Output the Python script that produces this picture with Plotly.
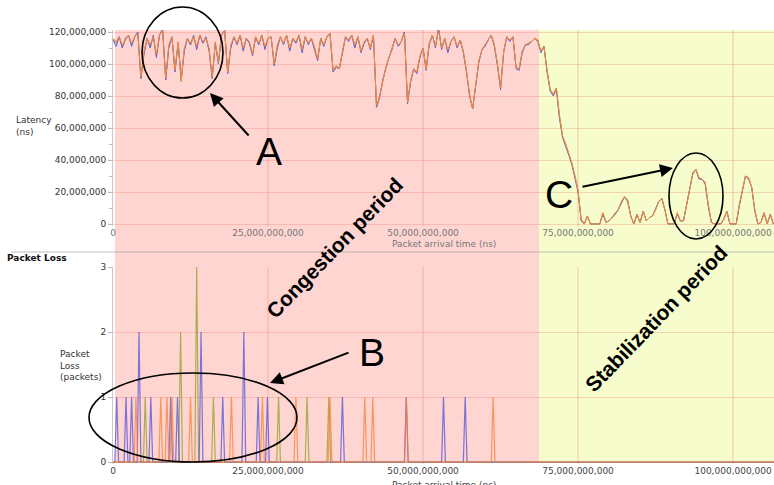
import plotly.graph_objects as go

# ---------------- data ----------------
STEP_NS = 0.5e9  # sampling step of latency series
X_MAX_NS = 106.6e9

# latency in millions of ns, one value every 0.5e9 ns
latency_orange_mns = [116,114,117,112,115,118,113,117,119,92,
108,116,112,117,106,118,121,91,112,117,
96,114,90,110,116,113,117,111,118,114,
116,110,92,114,101,118,121,95,112,117,
113,118,110,116,114,106,117,113,118,111,
116,117,100,112,117,113,118,110,116,114,
118,109,117,113,116,111,103,116,112,117,
119,96,99,97,108,117,115,118,112,117,
108,114,116,110,118,74,80,90,98,104,
110,116,112,114,119,76,90,97,95,105,
110,97,113,118,111,121,110,116,109,114,
117,111,115,108,96,81,72,88,102,109,
112,115,118,112,100,85,108,117,115,117,
98,97,108,112,113,114,116,115,108,111,
96,84,81,85,68,55,50,44,38,30,
21,2,0,5,0,0,0,0,7,1,
2,4,6,9,14,17,15,5,0,6,
1,8,2,4,5,9,14,16,9,0,
0,0,7,2,2,12,22,31,34,29,
28,26,12,1,0,0,0,3,8,0,
0,0,12,22,30,29,23,9,0,1,
7,0,6,0]

latency_blue_mns = [115,111,117,110,116,118,111,117,120,91,
106,116,110,118,104,118,122,90,110,117,
95,113,91,108,116,112,118,109,118,113,
117,108,91,113,100,118,121,94,110,117,
112,118,108,116,113,105,117,112,118,109,
116,117,99,110,117,112,118,108,116,113,
118,107,117,112,116,109,102,116,111,117,
119,95,98,97,106,117,114,118,110,117,
107,113,116,109,118,73,79,90,97,104,
109,116,111,114,120,75,89,97,94,104,
110,96,112,118,110,123,109,116,107,114,
117,110,115,107,95,80,72,87,101,109,
111,115,118,111,99,84,107,117,114,117,
97,96,107,112,112,114,116,114,107,111,
95,83,80,84,66,54,49,43,37,29,
20,3,0,5,0,0,0,0,6,1,
2,4,7,9,13,17,14,5,0,6,
1,8,2,4,5,9,14,16,9,0,
0,0,6,2,2,11,22,32,34,28,
28,25,11,1,0,0,0,3,8,0,
0,0,11,21,30,28,23,8,0,1,
7,0,6,0]

latency_green_mns = [116,113,117,111,115,118,112,117,120,91,
107,116,111,117,105,118,121,90,111,117,
96,113,89,109,116,112,117,110,118,113,
116,109,91,113,101,118,121,95,111,117,
113,118,109,116,113,106,117,112,118,110,
116,117,99,111,117,113,118,109,116,113,
118,108,117,113,116,110,103,116,112,117,
119,95,99,97,107,117,115,118,111,117,
108,113,116,110,118,73,80,90,98,104,
110,116,112,114,120,76,89,97,95,105,
110,97,113,118,111,122,110,116,108,114,
117,111,115,108,96,81,72,88,102,109,
112,115,118,112,100,85,108,117,115,117,
98,97,108,112,113,114,116,115,108,111,
96,84,81,85,68,55,50,44,38,30,
21,2,0,5,0,0,0,0,7,1,
2,4,6,9,14,17,15,5,0,6,
1,8,2,4,5,9,14,16,9,0,
0,0,7,2,2,12,22,31,34,29,
28,26,12,1,0,0,0,3,8,0,
0,0,12,22,30,29,23,9,0,1,
7,0,6,0]

# packet loss events: time (1e9 ns) and number of packets
loss_blue_t = [0.6, 2.1, 3.0, 4.2, 6.1, 9.3, 10.4, 14.2, 17.7, 21.1, 23.4, 24.9, 37.0, 47.3, 53.3, 56.8]
loss_blue_n = [1, 1, 1, 2, 1, 1, 1, 2, 1, 2, 1, 1, 1, 1, 1, 1]
loss_green_t = [5.2, 10.9, 13.5, 16.2, 26.7, 31.3, 34.8]
loss_green_n = [1, 2, 3, 1, 1, 1, 1]
loss_orange_t = [3.7, 7.7, 8.7, 9.5, 12.5, 19.1, 24.1, 29.5, 35.0, 40.6, 41.9, 47.3, 61.3]
loss_orange_n = [1, 1, 1, 1, 1, 1, 1, 1, 1, 1, 1, 1, 1]

x_ticks = [0, 25e9, 50e9, 75e9, 100e9]

# ---------------- styling helpers ----------------
W, H = 774, 485
ML, MR, MT, MB = 113, 0, 30, 21
PW, PH = W - ML - MR, H - MT - MB

def px(x):
    return (x - ML) / PW

def py(y):
    return (H - MB - y) / PH

BLUE = "rgb(95,95,220)"
ORANGE = "rgb(255,135,55)"
GREEN = "rgb(145,165,45)"
GRID = "rgba(235,120,100,0.30)"
XGRID = "rgba(235,120,100,0.20)"
FONT = "DejaVu Sans"

lat_t = [i * STEP_NS for i in range(len(latency_orange_mns))]


def spike_series(ts, ns, half=0.3):
    xs, ys = [0.0], [0.0]
    for t, n in sorted(zip(ts, ns)):
        xs += [(t - half) * 1e9, t * 1e9, (t + half) * 1e9]
        ys += [0, n, 0]
    xs.append(X_MAX_NS)
    ys.append(0)
    return xs, ys


fig = go.Figure()

for vals, col in [(latency_green_mns, GREEN), (latency_blue_mns, BLUE), (latency_orange_mns, ORANGE)]:
    fig.add_trace(go.Scatter(x=lat_t, y=[v * 1e6 for v in vals], mode="lines",
                             line=dict(color=col, width=1), xaxis="x", yaxis="y",
                             hoverinfo="skip", showlegend=False))

for ts, ns, col in [(loss_green_t, loss_green_n, "rgba(140,160,40,0.75)"),
                    (loss_blue_t, loss_blue_n, "rgba(80,80,220,0.75)"),
                    (loss_orange_t, loss_orange_n, "rgba(255,125,50,0.75)")]:
    xs, ys = spike_series(ts, ns)
    fig.add_trace(go.Scatter(x=xs, y=ys, mode="lines", line=dict(color=col, width=1.2),
                             xaxis="x2", yaxis="y2", hoverinfo="skip", showlegend=False))

tick_font = dict(family=FONT, size=9, color="#333")
top_dom = [py(225.6), 1.0]
bot_dom = [0.0, py(267)]

fig.update_layout(
    width=W, height=H,
    margin=dict(l=ML, r=MR, t=MT, b=MB, pad=0),
    paper_bgcolor="white",
    plot_bgcolor="rgba(0,0,0,0)",
    showlegend=False,
    xaxis=dict(domain=[0, 1], range=[0, X_MAX_NS], tickvals=x_ticks, tickformat=",d",
               showgrid=True, gridcolor=XGRID, gridwidth=2, zeroline=False,
               ticks="", tickfont=dict(family=FONT, size=9, color="#777"),
               anchor="y", showline=False),
    yaxis=dict(domain=top_dom, range=[-1e6, 121.25e6], dtick=20e6, tick0=0, tickformat=",d",
               showgrid=True, gridcolor=GRID, zeroline=False, ticks="outside", ticklen=4,
               tickcolor="#bbb", tickfont=tick_font, showline=True, linecolor="#c8c8c8",
               minor=dict(dtick=10e6, ticks="outside", ticklen=3, tickcolor="#bbb", showgrid=False),
               anchor="x"),
    xaxis2=dict(domain=[0, 1], range=[0, X_MAX_NS], tickvals=x_ticks, tickformat=",d",
                showgrid=True, gridcolor=XGRID, gridwidth=2, zeroline=False, ticks="",
                tickfont=dict(family=FONT, size=9, color="#444"), anchor="y2", showline=False),
    yaxis2=dict(domain=bot_dom, range=[-0.03, 3.0], dtick=1, tick0=0,
                showgrid=True, gridcolor=GRID, zeroline=False, ticks="outside", ticklen=4,
                tickcolor="#bbb", tickfont=tick_font, showline=True, linecolor="#c8c8c8",
                anchor="x2"),
)

shapes = [
    dict(type="rect", xref="paper", yref="paper", x0=px(115), x1=px(539), y0=py(462), y1=1,
         fillcolor="rgb(255,213,210)", line=dict(width=0), layer="below"),
    dict(type="rect", xref="paper", yref="paper", x0=px(539), x1=1, y0=py(462), y1=1,
         fillcolor="rgb(246,252,204)", line=dict(width=0), layer="below"),
    dict(type="line", xref="paper", yref="paper", x0=px(11), x1=1, y0=py(252), y1=py(252),
         line=dict(color="rgba(150,150,150,0.6)", width=1)),
    # highlight ellipses
    dict(type="circle", xref="paper", yref="paper", x0=px(142), x1=px(223), y0=py(98), y1=py(7),
         line=dict(color="black", width=1.6)),
    dict(type="circle", xref="paper", yref="paper", x0=px(89), x1=px(297), y0=py(462), y1=py(373),
         line=dict(color="black", width=1.6)),
    dict(type="circle", xref="paper", yref="paper", x0=px(669), x1=px(723), y0=py(239), y1=py(153),
         line=dict(color="black", width=1.6)),
]
fig.update_layout(shapes=shapes)

ann = []
def text(x, y, s, size=9, color="#333", xanchor="left", yanchor="middle", bold=False,
         family=FONT, angle=0, align="left"):
    ann.append(dict(xref="paper", yref="paper", x=px(x), y=py(y), text=s, showarrow=False,
                    xanchor=xanchor, yanchor=yanchor, textangle=angle, align=align,
                    font=dict(family=family, size=size, color=color,
                              weight="bold" if bold else "normal")))

text(14, 126, "Latency<br>(ns)")
text(58, 365, "Packet<br>Loss<br>(packets)")
text(5, 258, "Packet Loss", bold=True, color="#111")
text(443.5, 244, "Packet arrival time (ns)", color="#777", xanchor="center")
text(443.5, 478, "Packet arrival time (ns)", color="#444", xanchor="center", yanchor="top")
text(335, 248, "Congestion period", size=21, color="black", xanchor="center", bold=True,
     family="Liberation Sans", angle=-46)
text(656, 318, "Stabilization period", size=21, color="black", xanchor="center", bold=True,
     family="Liberation Sans", angle=-46)
text(269, 151, "A", size=39, color="black", xanchor="center", family="Liberation Sans")
text(372, 352, "B", size=39, color="black", xanchor="center", family="Liberation Sans")
text(559, 195, "C", size=39, color="black", xanchor="center", family="Liberation Sans")

for tip, tail in [((210, 93), (250, 137)), ((270, 383), (350, 352)), ((673, 168), (581, 187))]:
    ann.append(dict(xref="paper", yref="paper", x=px(tip[0]), y=py(tip[1]), text="",
                    showarrow=True, arrowhead=2, arrowsize=1.3, arrowwidth=2,
                    arrowcolor="black", ax=tail[0] - tip[0], ay=tail[1] - tip[1],
                    standoff=0, startstandoff=0))

fig.update_layout(annotations=ann)

fig.write_html("out.html", config={"displayModeBar": False},
               post_script="document.body.style.margin='0';document.body.style.overflow='hidden';")
